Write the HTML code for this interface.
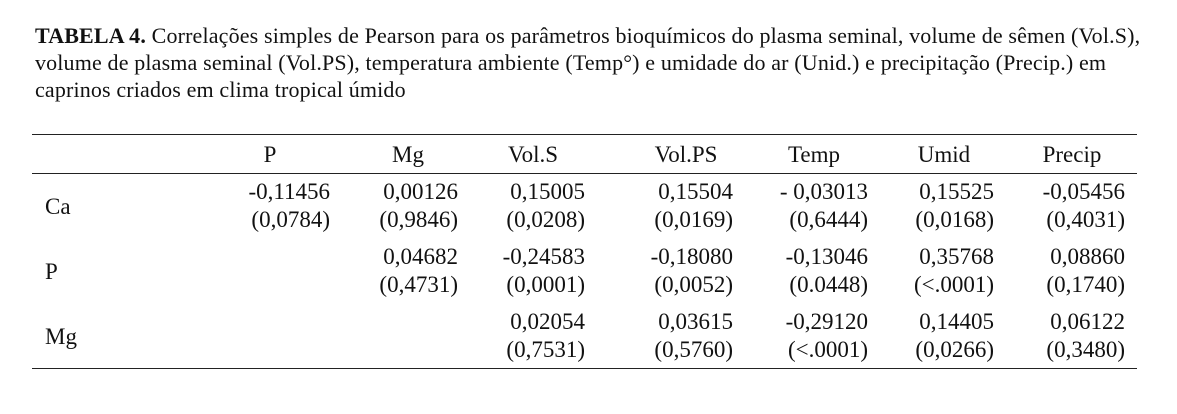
<!DOCTYPE html>
<html><head><meta charset="utf-8"><style>
body{margin:0;width:1177px;height:414px;background:#fff;position:relative;font-family:"Liberation Serif",serif;color:#111;overflow:hidden}
.t{position:absolute;left:35px;font-size:22px;letter-spacing:0.15px;white-space:nowrap;line-height:27px}
.l{position:absolute;left:32px;width:1105px;height:1px;background:#222}
.c{position:absolute;font-size:23px;white-space:nowrap;line-height:28px}
.r{text-align:right;width:160px}
.m{text-align:center;width:140px}
</style></head><body>
<div class="t" style="top:22px"><b>TABELA 4.</b> Correlações simples de Pearson para os parâmetros bioquímicos do plasma seminal, volume de sêmen (Vol.S),</div>
<div class="t" style="top:49px">volume de plasma seminal (Vol.PS), temperatura ambiente (Temp°) e umidade do ar (Unid.) e precipitação (Precip.) em</div>
<div class="t" style="top:76px">caprinos criados em clima tropical úmido</div>
<div class="l" style="top:134px"></div>
<div class="l" style="top:173px"></div>
<div class="l" style="top:368px"></div>
<div class="c m" style="left:200px;top:141px">P</div>
<div class="c m" style="left:338px;top:141px">Mg</div>
<div class="c m" style="left:463px;top:141px">Vol.S</div>
<div class="c m" style="left:616px;top:141px">Vol.PS</div>
<div class="c m" style="left:744px;top:141px">Temp</div>
<div class="c m" style="left:874px;top:141px">Umid</div>
<div class="c m" style="left:1002px;top:141px">Precip</div>
<div class="c" style="left:45px;top:193px">Ca</div>
<div class="c" style="left:45px;top:258px">P</div>
<div class="c" style="left:45px;top:323px">Mg</div>
<div class="c r" style="left:170px;top:178px">-0,11456<br>(0,0784)</div>
<div class="c r" style="left:298px;top:178px">0,00126<br>(0,9846)</div>
<div class="c r" style="left:425px;top:178px">0,15005<br>(0,0208)</div>
<div class="c r" style="left:573px;top:178px">0,15504<br>(0,0169)</div>
<div class="c r" style="left:708px;top:178px">- 0,03013<br>(0,6444)</div>
<div class="c r" style="left:834px;top:178px">0,15525<br>(0,0168)</div>
<div class="c r" style="left:965px;top:178px">-0,05456<br>(0,4031)</div>
<div class="c r" style="left:298px;top:243px">0,04682<br>(0,4731)</div>
<div class="c r" style="left:425px;top:243px">-0,24583<br>(0,0001)</div>
<div class="c r" style="left:573px;top:243px">-0,18080<br>(0,0052)</div>
<div class="c r" style="left:708px;top:243px">-0,13046<br>(0.0448)</div>
<div class="c r" style="left:834px;top:243px">0,35768<br>(&lt;.0001)</div>
<div class="c r" style="left:965px;top:243px">0,08860<br>(0,1740)</div>
<div class="c r" style="left:425px;top:308px">0,02054<br>(0,7531)</div>
<div class="c r" style="left:573px;top:308px">0,03615<br>(0,5760)</div>
<div class="c r" style="left:708px;top:308px">-0,29120<br>(&lt;.0001)</div>
<div class="c r" style="left:834px;top:308px">0,14405<br>(0,0266)</div>
<div class="c r" style="left:965px;top:308px">0,06122<br>(0,3480)</div>
</body></html>
